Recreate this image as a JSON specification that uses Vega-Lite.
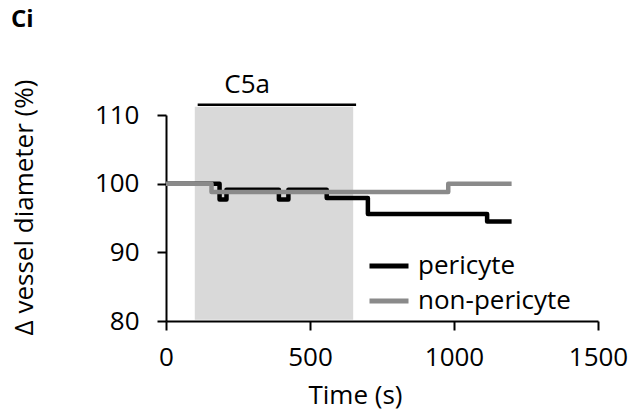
{
  "$schema": "https://vega.github.io/schema/vega-lite/v6.json",
  "width": 432,
  "height": 206,
  "autosize": {"type": "none"},
  "padding": {"left": 166, "top": 115, "right": 34, "bottom": 92},
  "background": "white",
  "title": {"text": "Ci", "anchor": "start", "frame": "group", "font": "Open Sans", "fontSize": 24, "fontWeight": "bold", "color": "#000000", "dx": -155, "dy": -40, "offset": 0},
  "config": {
    "view": {"stroke": null},
    "font": "Open Sans",
    "axis": {"domainColor": "#000000", "domainWidth": 2, "tickColor": "#000000", "tickWidth": 2, "tickSize": 9, "labelFont": "Open Sans", "labelFontSize": 26, "labelColor": "#000000", "titleFont": "Open Sans", "titleFontSize": 26, "titleFontWeight": "normal", "titleColor": "#000000", "grid": false, "format": "d", "labelFlush": false, "labelOverlap": false}
  },
  "datasets": {
    "stim": [{"start": 100, "end": 650, "low": 80.2, "high": 111.2}],
    "bar": [{"start": 110, "end": 660, "level": 111.5, "label": "C5a", "labelTime": 282, "labelLevel": 113.2}],
    "lines": [
      {"time": 0, "diameter": 100, "cell": "pericyte"},
      {"time": 186, "diameter": 97.7, "cell": "pericyte"},
      {"time": 210, "diameter": 99.1, "cell": "pericyte"},
      {"time": 392, "diameter": 97.7, "cell": "pericyte"},
      {"time": 425, "diameter": 99.1, "cell": "pericyte"},
      {"time": 558, "diameter": 97.9, "cell": "pericyte"},
      {"time": 701, "diameter": 95.6, "cell": "pericyte"},
      {"time": 1115, "diameter": 94.5, "cell": "pericyte"},
      {"time": 1200, "diameter": 94.5, "cell": "pericyte"},
      {"time": 0, "diameter": 100, "cell": "non-pericyte"},
      {"time": 158, "diameter": 98.8, "cell": "non-pericyte"},
      {"time": 980, "diameter": 100, "cell": "non-pericyte"},
      {"time": 1200, "diameter": 100, "cell": "non-pericyte"}
    ]
  },
  "resolve": {"scale": {"x": "shared", "y": "shared"}},
  "layer": [
    {
      "data": {"name": "stim"},
      "mark": {"type": "rect", "color": "#d9d9d9"},
      "encoding": {
        "x": {"field": "start", "type": "quantitative", "scale": {"domain": [0, 1500], "range": [0, 432], "nice": false, "zero": false, "padding": 0}},
        "x2": {"field": "end"},
        "y": {"field": "low", "type": "quantitative", "scale": {"domain": [80, 110], "nice": false, "zero": false}},
        "y2": {"field": "high"}
      }
    },
    {
      "data": {"name": "bar"},
      "mark": {"type": "rule", "color": "#000000", "strokeWidth": 2.5},
      "encoding": {
        "x": {"field": "start", "type": "quantitative"},
        "x2": {"field": "end"},
        "y": {"field": "level", "type": "quantitative"}
      }
    },
    {
      "data": {"name": "bar"},
      "mark": {"type": "text", "font": "Open Sans", "fontSize": 26, "color": "#000000", "align": "center", "baseline": "alphabetic"},
      "encoding": {
        "x": {"field": "labelTime", "type": "quantitative"},
        "y": {"field": "labelLevel", "type": "quantitative"},
        "text": {"field": "label"}
      }
    },
    {
      "data": {"name": "lines"},
      "mark": {"type": "line", "interpolate": "step-after", "strokeWidth": 4.5, "strokeJoin": "round"},
      "encoding": {
        "x": {"field": "time", "type": "quantitative",
          "axis": {"values": [0, 500, 1000, 1500], "title": "Time (s)", "labelPadding": 14, "titleX": 189, "titleY": 82, "titleBaseline": "alphabetic", "titleAnchor": "middle", "titleAlign": "center"}},
        "y": {"field": "diameter", "type": "quantitative",
          "axis": {"values": [80, 90, 100, 110], "title": "Δ vessel diameter (%)", "labelPadding": 18, "titleX": -134, "titleY": 92, "titleAngle": -90, "titleBaseline": "alphabetic", "titleAlign": "center"}},
        "color": {"field": "cell", "type": "nominal", "sort": ["pericyte", "non-pericyte"],
          "scale": {"domain": ["pericyte", "non-pericyte"], "range": ["#000000", "#8a8a8a"]},
          "legend": {"title": null, "orient": "none", "legendX": 201, "legendY": 129, "symbolType": "stroke", "symbolSize": 1521, "symbolStrokeWidth": 5, "labelFont": "Open Sans", "labelFontSize": 26, "labelColor": "#000000", "labelOffset": 7, "rowPadding": 0,
            "encode": {"symbols": {"update": {"stroke": {"signal": "datum.value === 'pericyte' ? '#000000' : '#a6a6a6'"}}}}}
        }
      }
    }
  ]
}
